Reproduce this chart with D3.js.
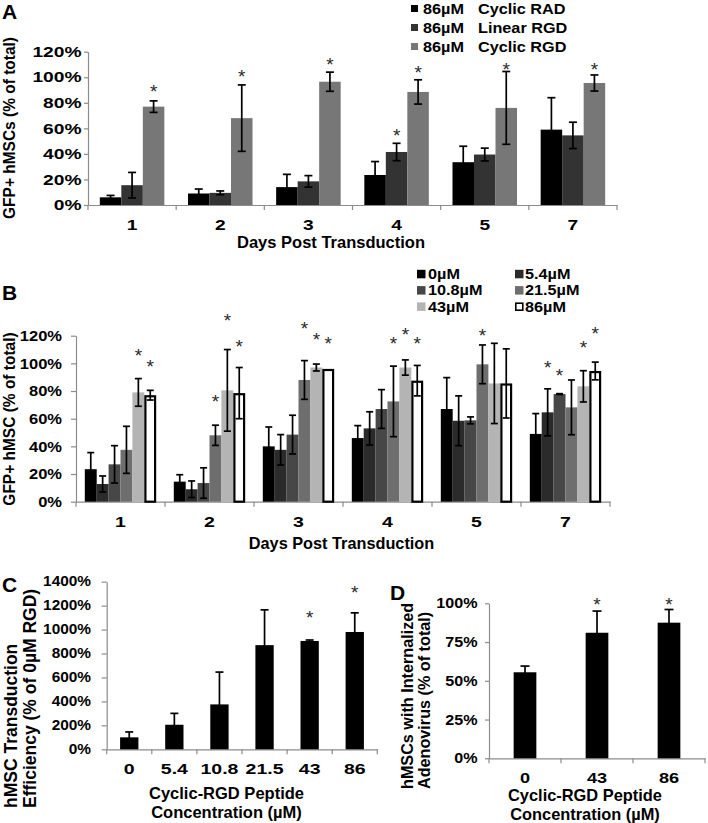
<!DOCTYPE html>
<html><head><meta charset="utf-8">
<script src="https://cdn.jsdelivr.net/npm/d3@7"></script>
<style>
body{margin:0;background:#fff}
svg{display:block}
text{font-family:"Liberation Sans",Arial,Helvetica,sans-serif}
</style>
</head><body>
<svg id="chart" width="708" height="823"></svg>
<script>
// ---------------- Panel A data ----------------
const daysA = ["1","2","3","4","5","7"];
const doseA = "86µM";
const namesA = ["Cyclic RAD","Linear RGD","Cyclic RGD"];
const radMean = [6, 9, 14, 23.5, 33.5, 59];
const radErr  = [1.5, 3.5, 10, 10.5, 12.5, 25];
const linMean = [15.5, 9.5, 18.5, 41.5, 39.5, 54.5];
const linErr  = [10, 1.5, 4.5, 6.8, 5, 10.3];
const cycMean = [77, 68, 96.5, 88.5, 76, 95.5];
const cycErr  = [4.5, 26, 7.5, 9.5, 28.5, 6.3];
const starsLinA = [null, null, null, 57.4, null, null];
const starsCycA = [92, 103.6, 113.5, 107, 109.5, 109.5];
const ticksA = [0, 20, 40, 60, 80, 100, 120];

// ---------------- Panel B data ----------------
const daysB = ["1","2","3","4","5","7"];
const concB = ["0µM","5.4µM","10.8µM","21.5µM","43µM","86µM"];
const b0Mean   = [23.5, 14.5, 40, 46, 67, 49];
const b0Err    = [12, 5, 14, 9, 22.7, 14.7];
const b54Mean  = [12.8, 9, 37.5, 53, 58.5, 64.6];
const b54Err   = [5.8, 6, 11, 12, 18, 17];
const b108Mean = [27, 13.5, 48.5, 67, 58.8, 77.8];
const b108Err  = [13.5, 11, 14, 14, 2.5, 0.3];
const b215Mean = [37.5, 48, 88, 72.5, 99.3, 68.2];
const b215Err  = [17, 7.3, 14, 25.5, 14, 19.8];
const b43Mean  = [79, 80.5, 97, 97, 85.5, 83.4];
const b43Err   = [10, 29.5, 2.5, 5.5, 29, 11.3];
const b86Mean  = [77, 78.5, 96, 87.5, 85.5, 94.5];
const b86Err   = [3.5, 18.5, 0, 11, 25, 6.4];
const starsB54  = [null, null, null, null, null, 100.1];
const starsB108 = [null, null, null, null, null, 94];
const starsB215 = [null, 75.2, 127.8, 117.6, 122.9, null];
const starsB43  = [108.5, 133.8, 119.8, 123.4, null, 114.5];
const starsB86  = [100.5, 115, 116.9, 116.9, null, 124.2];
const ticksB = [0, 20, 40, 60, 80, 100, 120];

// ---------------- Panel C data ----------------
const concC = ["0","5.4","10.8","21.5","43","86"];
const effMean = [100, 205, 375, 870, 905, 980];
const effErr  = [45, 95, 270, 295, 8, 160];
const starsC  = [null, null, null, null, 1133, 1345];
const ticksC = [0, 200, 400, 600, 800, 1000, 1200, 1400];

// ---------------- Panel D data ----------------
const concD = ["0","43","86"];
const intMean = [55.5, 81, 87.5];
const intErr  = [4, 14, 8.5];
const starsD  = [null, 101.7, 101.7];
const ticksD = [0, 25, 50, 75, 100];

// ---------------- drawing ----------------
const svg = d3.select("#chart");
const AXIS_GRAY = "#8c8c8c";
const pct = v => v + "%";

function label(g, s, x, y, o) {
  o = o || {};
  const fs = o.fs || 15, sx = o.sx || 1;
  let tr = `translate(${x},${y}) scale(${sx},1)`;
  if (o.rot) tr += " rotate(-90)";
  return g.append("text").attr("transform", tr)
    .attr("font-size", fs).attr("font-weight", o.w || "bold")
    .attr("text-anchor", o.anchor || "middle")
    .attr("dominant-baseline", o.base || "central")
    .attr("fill", o.fill || "#000").text(s);
}

function barPanel(p) {
  const g = svg.append("g");
  const x = d3.scaleBand().domain(p.cats).range([p.x0, p.x1]).padding(0);
  const xs = d3.scaleBand().domain(d3.range(p.series.length))
    .range([0, x.bandwidth()]).paddingInner(0).paddingOuter(p.outer);
  const y = d3.scaleLinear().domain([0, p.max]).range([p.yBase, p.yTop]);

  // y axis
  const ya = g.append("g").attr("transform", `translate(${p.x0},0)`)
    .call(d3.axisLeft(y).tickValues(p.ticks).tickSize(p.tickLen).tickSizeOuter(0).tickFormat(""));
  ya.select(".domain").attr("stroke", AXIS_GRAY).attr("stroke-width", 1.2);
  ya.selectAll(".tick line").attr("stroke", AXIS_GRAY).attr("stroke-width", 1.2);
  p.ticks.forEach(t => label(g, pct(t), p.yLabRight, y(t), {fs: p.yfs, sx: p.ysx, anchor: "end"}));

  // x axis
  const xa = g.append("g").attr("transform", `translate(0,${p.yBase})`)
    .call(d3.axisBottom(x).tickSize(0).tickSizeOuter(0).tickFormat(""));
  xa.select(".domain").attr("stroke", AXIS_GRAY).attr("stroke-width", 1.2);
  const bounds = p.cats.map(c => x(c)).concat([x.range()[1]]);
  g.selectAll(null).data(bounds).join("line")
    .attr("x1", d => d).attr("x2", d => d)
    .attr("y1", p.yBase).attr("y2", p.yBase + p.xTickLen)
    .attr("stroke", AXIS_GRAY).attr("stroke-width", 1.2);
  p.cats.forEach(c => label(g, c, x(c) + x.bandwidth() / 2, p.xLabY, {fs: p.xfs, sx: p.xsx}));

  // bars
  const bw = xs.bandwidth();
  p.series.forEach((s, si) => {
    const sw = s.sw || 0;
    g.selectAll(null).data(s.mean).join("rect")
      .attr("x", (d, i) => x(p.cats[i]) + xs(si) + sw / 2)
      .attr("y", d => y(d) + sw / 2)
      .attr("width", bw - sw)
      .attr("height", d => Math.max(0, y(0) - y(d) - sw / 2))
      .attr("fill", s.fill)
      .attr("stroke", sw ? "#000" : "none")
      .attr("stroke-width", sw);
  });
  // error bars
  p.series.forEach((s, si) => {
    s.mean.forEach((m, i) => {
      const e = s.err[i];
      if (!e) return;
      const cx = x(p.cats[i]) + xs(si) + bw / 2;
      const yt = y(m + e), yb = y(Math.max(0, m - e));
      g.append("line").attr("x1", cx).attr("x2", cx).attr("y1", yt).attr("y2", yb)
        .attr("stroke", "#000").attr("stroke-width", 1.7);
      [yt, yb].forEach(yy => g.append("line")
        .attr("x1", cx - p.cap / 2).attr("x2", cx + p.cap / 2)
        .attr("y1", yy).attr("y2", yy)
        .attr("stroke", "#000").attr("stroke-width", 1.7));
    });
  });
  // significance stars
  p.series.forEach((s, si) => {
    if (!s.stars) return;
    s.stars.forEach((lv, i) => {
      if (lv == null) return;
      const cx = x(p.cats[i]) + xs(si) + bw / 2;
      label(g, "*", cx, y(lv) + 10.5, {fs: 19, w: "normal", base: "alphabetic", fill: "#2a2a2a"});
    });
  });
  return {g, x, y};
}

// ---- Panel A ----
const seriesA = [
  {mean: radMean, err: radErr, fill: "#000000"},
  {mean: linMean, err: linErr, fill: "#333333", stars: starsLinA},
  {mean: cycMean, err: cycErr, fill: "#777777", stars: starsCycA}
];
const A = barPanel({cats: daysA, series: seriesA, x0: 88, x1: 617, yBase: 205, yTop: 51.7,
  max: 120, ticks: ticksA, tickLen: 4, xTickLen: 5, outer: 0.55, cap: 8,
  yLabRight: 81.5, yfs: 15, ysx: 1.28, xLabY: 225, xfs: 15, xsx: 1.28});
label(A.g, "Days Post Transduction", 331, 242, {fs: 16.5});
label(A.g, "GFP+ hMSCs (% of total)", 9, 128, {fs: 15.5, rot: true, sx: 1.12});
label(A.g, "A", 2, 19, {fs: 21, anchor: "start", base: "alphabetic"});
seriesA.forEach((s, i) => {
  const yy = 8.5 + i * 19;
  A.g.append("rect").attr("x", 411).attr("y", yy - 3.5).attr("width", 7).attr("height", 7).attr("fill", s.fill);
  label(A.g, doseA, 423, yy, {fs: 14, sx: 1.16, anchor: "start"});
  label(A.g, namesA[i], 478, yy, {fs: 14, sx: 1.16, anchor: "start"});
});

// ---- Panel B ----
const seriesB = [
  {mean: b0Mean, err: b0Err, fill: "#000000"},
  {mean: b54Mean, err: b54Err, fill: "#2b2b2b", stars: starsB54},
  {mean: b108Mean, err: b108Err, fill: "#474747", stars: starsB108},
  {mean: b215Mean, err: b215Err, fill: "#6e6e6e", stars: starsB215},
  {mean: b43Mean, err: b43Err, fill: "#b4b4b4", stars: starsB43},
  {mean: b86Mean, err: b86Err, fill: "#ffffff", sw: 2.2, stars: starsB86}
];
const B = barPanel({cats: daysB, series: seriesB, x0: 76, x1: 610, yBase: 501.7, yTop: 335.7,
  max: 120, ticks: ticksB, tickLen: 5, xTickLen: 5, outer: 0.74, cap: 7,
  yLabRight: 62, yfs: 15, ysx: 1.1, xLabY: 521.7, xfs: 15, xsx: 1.3});
label(B.g, "Days Post Transduction", 341.5, 543, {fs: 16.3});
label(B.g, "GFP+ hMSC (% of total)", 9, 419, {fs: 15.5, rot: true, sx: 1.12});
label(B.g, "B", 2, 300, {fs: 21, anchor: "start", base: "alphabetic"});
seriesB.forEach((s, i) => {
  const col = i % 2, row = Math.floor(i / 2);
  const yy = 274 + row * 16.3;
  const sq = [417, 515][col], tx = [428, 525][col];
  B.g.append("rect").attr("x", sq + (s.sw ? 0.8 : 0)).attr("y", yy - 4.2 + (s.sw ? 0.8 : 0))
    .attr("width", s.sw ? 7 : 8.5).attr("height", s.sw ? 7 : 8.5)
    .attr("fill", s.fill).attr("stroke", s.sw ? "#000" : "none").attr("stroke-width", s.sw ? 1.6 : 0);
  label(B.g, concB[i], tx, yy, {fs: 14, sx: 1.16, anchor: "start"});
});

// ---- Panel C ----
const C = barPanel({cats: concC, series: [{mean: effMean, err: effErr, fill: "#000000", stars: starsC}],
  x0: 106.7, x1: 377.3, yBase: 749.3, yTop: 581.7, max: 1400, ticks: ticksC,
  tickLen: 5, xTickLen: 5, outer: 0.732, cap: 8,
  yLabRight: 91, yfs: 14, ysx: 1.1, xLabY: 768.5, xfs: 15, xsx: 1.3});
label(C.g, "Cyclic-RGD Peptide", 226.5, 793, {fs: 16.5});
label(C.g, "Concentration (µM)", 226.5, 812, {fs: 16.5});
label(C.g, "hMSC Transduction", 11, 808, {fs: 17.5, rot: true, anchor: "start"});
label(C.g, "Efficiency (% of 0µM RGD)", 30, 808, {fs: 17.5, rot: true, anchor: "start"});
label(C.g, "C", 2, 592, {fs: 21, anchor: "start", base: "alphabetic"});

// ---- Panel D ----
const D = barPanel({cats: concD, series: [{mean: intMean, err: intErr, fill: "#000000", stars: starsD}],
  x0: 489, x1: 705, yBase: 758.3, yTop: 603.3, max: 100, ticks: ticksD,
  tickLen: 4, xTickLen: 5, outer: 1.086, cap: 9,
  yLabRight: 477.5, yfs: 14, ysx: 1.15, xLabY: 778, xfs: 14.5, xsx: 1.25});
label(D.g, "Cyclic-RGD Peptide", 585, 795, {fs: 16.4});
label(D.g, "Concentration (µM)", 585, 813.5, {fs: 16.4});
label(D.g, "hMSCs with Internalized", 407, 789, {fs: 16.2, rot: true, anchor: "start"});
label(D.g, "Adenovirus (% of total)", 424, 789, {fs: 16.2, rot: true, anchor: "start"});
label(D.g, "D", 390, 600, {fs: 21, anchor: "start", base: "alphabetic"});
</script>
</body></html>
